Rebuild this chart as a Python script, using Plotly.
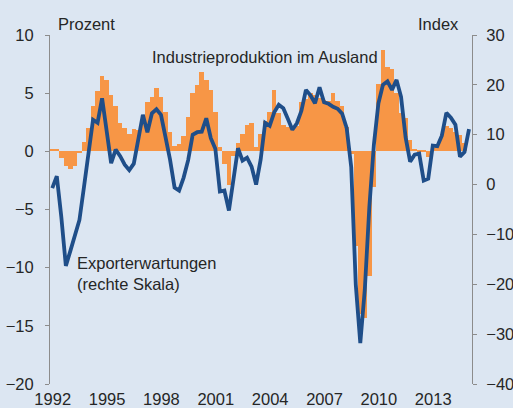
import plotly.graph_objects as go

# Quarterly data, 1992Q1 ...
years_start = 1992
prod_ausland = [  # Industrieproduktion im Ausland, % (left scale), 1992Q1-2014Q4
    0.2, 0.2, -0.6, -1.3,
    -1.5, -1.3, -0.15, 0.8,
    2.0, 3.9, 5.2, 6.5,
    6.1, 4.8, 3.9, 2.4,
    2.0, 1.5, 1.9, 1.85,
    3.0, 4.25, 4.7, 5.45,
    4.7, 3.4, 1.65, 0.5,
    0.6, 1.3, 2.95, 5.0,
    5.7, 6.8, 6.15, 5.25,
    3.4, 0.35, -1.05, -2.9,
    -0.4, 0.7, 1.5, 2.3,
    2.45, 0.4, 1.5, 2.65,
    3.4, 5.3, 3.3, 2.3,
    2.1, 2.0, 2.2, 4.2,
    4.5, 5.0, 4.8, 4.6,
    4.45, 4.35, 5.0, 4.3,
    3.9, 2.1, -0.2, -8.1,
    -14.0, -14.3, -10.7, -3.1,
    5.8, 8.75, 7.25, 7.1,
    5.0, 3.3, 2.9, 1.0,
    0.2, 0.15, 0.1, -0.5,
    0.3, 0.6, 1.5, 2.2,
    2.0, 1.7, 1.4, 0.75,
]
export_erw = [  # Exporterwartungen, Index (right scale), 1992Q1-2015Q1
    -0.7, 1.7, -6.5, -16.3,
    -13.3, -10.4, -7.1, -0.5,
    7.0, 13.0, 12.4, 17.3,
    10.8, 4.3, 7.0, 5.7,
    4.0, 2.9, 4.2, 9.5,
    14.0, 10.5, 14.3, 15.1,
    14.0, 9.5, 5.0, -0.6,
    -1.2, 1.4, 4.9, 10.0,
    10.5, 10.6, 13.3, 9.3,
    7.2, -1.4, -1.2, -5.2,
    0.8, 7.3, 4.8, 5.4,
    3.6, 0.0, 5.0, 12.4,
    11.8, 14.5, 16.0, 15.3,
    13.2, 11.0, 12.3, 14.8,
    19.0, 17.9, 16.3, 19.5,
    16.5, 16.2, 15.6, 15.2,
    14.2, 11.3, 3.5, -20.0,
    -31.8, -21.0, -4.5, 8.0,
    16.3, 20.0, 20.7, 19.0,
    21.0, 17.6, 9.5, 4.6,
    6.0, 6.2, 0.8, 1.2,
    7.8, 7.7, 9.8, 14.4,
    13.4, 12.0, 5.6, 6.5,
    11.1,
]
tick_years = [1992, 1995, 1998, 2001, 2004, 2007, 2010, 2013]

x_bars = [years_start + (i + 0.5) / 4 for i in range(len(prod_ausland))]
x_line = [years_start + (i + 0.5) / 4 for i in range(len(export_erw))]

FONT = "Liberation Sans, Arial, sans-serif"
FS = 16.5
TXT = "#262626"
GREY = "#8c8c8c"
xr = [1992, 2015.29]

fig = go.Figure()
fig.add_trace(go.Bar(x=x_bars, y=prod_ausland, width=0.25,
                     marker=dict(color="#f79646", line=dict(width=0)),
                     xaxis="x", yaxis="y", showlegend=False))
fig.add_trace(go.Scatter(x=x_line, y=export_erw, mode="lines",
                         line=dict(color="#1f4e89", width=3.8),
                         xaxis="x", yaxis="y2", showlegend=False))

fig.update_layout(
    width=513, height=408,
    margin=dict(l=50, r=41, t=35, b=24, pad=0, autoexpand=False),
    paper_bgcolor="#dce6f2", plot_bgcolor="#dce6f2",
    bargap=0,
    font=dict(family=FONT, size=FS, color=TXT),
    xaxis=dict(range=xr, tickvals=[y + 0.15 for y in tick_years],
               ticktext=[str(y) for y in tick_years], ticks="",
               showline=False, showgrid=False, zeroline=False,
               automargin=False, ticklabelstandoff=3,
               tickfont=dict(family=FONT, size=FS, color=TXT)),
    xaxis2=dict(range=xr, overlaying="x", anchor="free", position=2/3,
                showline=True, linecolor=GREY, linewidth=1,
                ticks="outside", ticklen=4, tickcolor=GREY, tickwidth=1,
                tick0=1992, dtick=1, showticklabels=False,
                showgrid=False, zeroline=False, automargin=False),
    yaxis=dict(range=[-20, 10], dtick=5, showline=True, linecolor=GREY,
               linewidth=1, ticks="outside", ticklen=4, tickcolor=GREY,
               showgrid=False, zeroline=False, automargin=False,
               ticklabelstandoff=8,
               tickfont=dict(family=FONT, size=FS, color=TXT)),
    yaxis2=dict(range=[-40, 30], dtick=10, overlaying="y", side="right",
                showline=True, linecolor=GREY, linewidth=1, ticks="outside",
                ticklen=4, tickcolor=GREY, showgrid=False, zeroline=False,
                automargin=False, ticklabelstandoff=6,
                tickfont=dict(family=FONT, size=FS, color=TXT)),
    annotations=[
        dict(text="Prozent", xref="paper", yref="paper", x=0.0142, y=1.0315,
             xanchor="left", yanchor="middle", showarrow=False),
        dict(text="Index", xref="paper", yref="paper", x=0.973, y=1.0315,
             xanchor="right", yanchor="middle", showarrow=False),
        dict(text="Industrieproduktion im Ausland", xref="paper", yref="paper",
             x=0.237, y=0.937, xanchor="left", yanchor="middle", showarrow=False),
        dict(text="Exporterwartungen<br>(rechte Skala)", xref="paper", yref="paper",
             x=0.0592, y=0.318, xanchor="left", yanchor="middle", align="left",
             showarrow=False),
    ],
)

fig.write_html(
    "out.html",
    config={"displayModeBar": False},
    post_script="document.body.style.margin='0px';document.body.style.overflow='hidden';",
)
